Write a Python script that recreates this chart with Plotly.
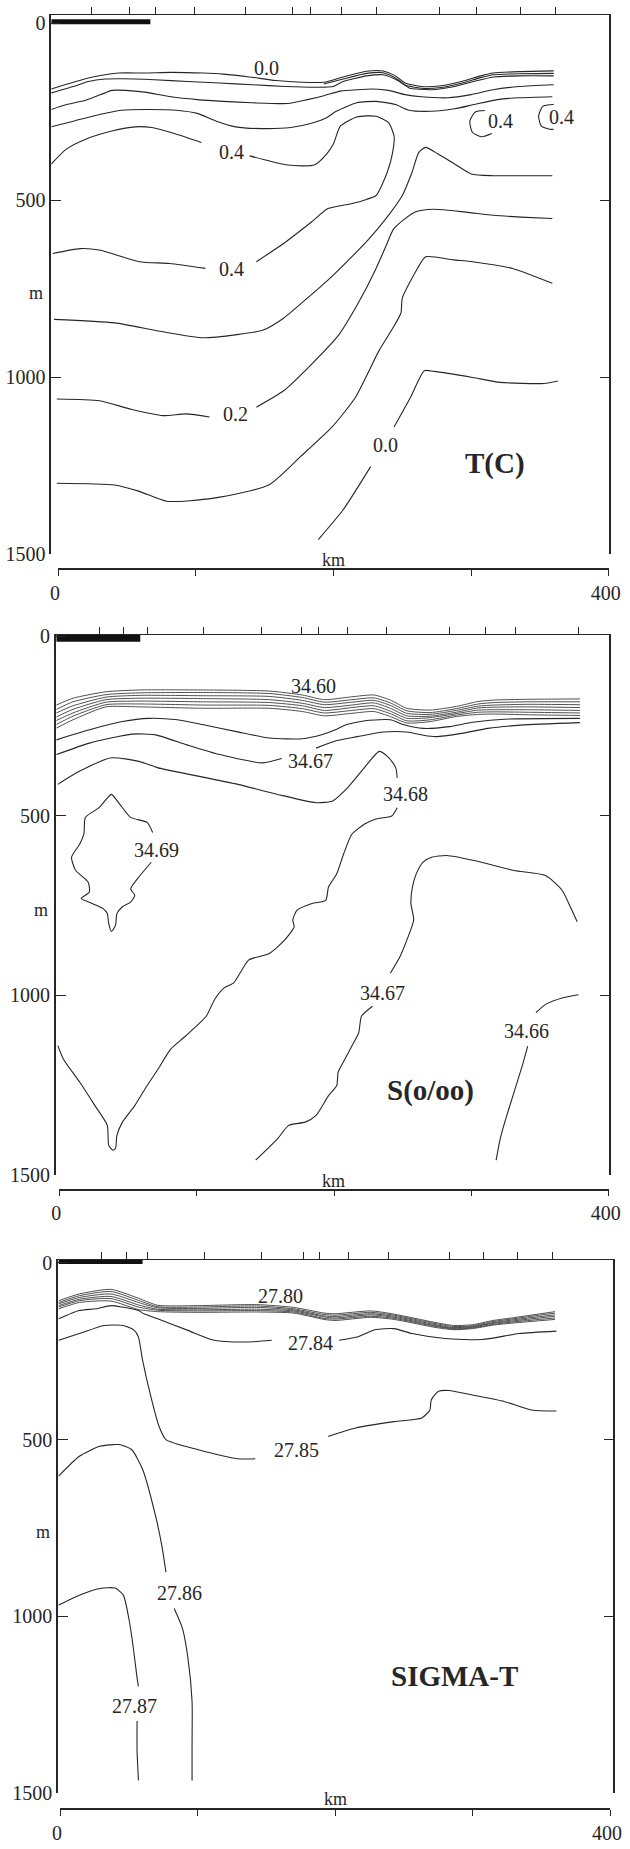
import plotly.graph_objects as go

SERIF = "Liberation Serif"
INK = "#262626"
HATCH = "#3c3c3c"

# Each isoline is a list of (distance km, depth m) points.
# None breaks the line where its value label is printed.

# ---------------------------------------------------------------- T(C)
T_STATIONS = [24, 52, 71, 99, 136, 170, 183, 206, 231, 277, 304, 336, 361]
T_SCALE_BAR = [-5, 67]

T_BAND_A = [(-5, 185), (11, 166), (27, 150), (44, 140), (63, 140), (82, 138), (105, 140), (120, 143),
            (139, 151), (158, 161), (177, 166), (193, 166), (207, 151), (224, 135), (236, 134), (245, 148),
            (252, 168), (264, 178), (278, 176), (293, 164), (307, 148), (316, 140), (335, 136), (360, 134)]
T_BAND_B = [(193, 171), (207, 157), (224, 141), (236, 139), (245, 154), (252, 174), (264, 183), (278, 181),
            (293, 169), (307, 153), (316, 145), (335, 142), (360, 141)]
T_BAND_C = [(-5, 196), (11, 178), (22, 164), (34, 157), (46, 156), (70, 159), (94, 164), (117, 168),
            (141, 173), (165, 178), (188, 180), (200, 178), (207, 164), (224, 148), (236, 145), (248, 164),
            (255, 182), (271, 187), (288, 178), (302, 164), (316, 151), (335, 148), (360, 148)]
T_ISO_3 = [(-5, 243), (6, 229), (20, 217), (34, 196), (39, 189), (49, 189), (63, 194), (82, 207),
           (101, 215), (120, 220), (141, 224), (167, 226), (181, 215), (193, 204), (205, 191), (217, 187),
           (229, 185), (240, 189), (252, 201), (264, 207), (283, 210), (300, 201), (316, 187), (335, 178),
           (360, 173)]
T_ISO_4 = [(-5, 292), (11, 276), (30, 257), (46, 245), (63, 243), (86, 245), (101, 254), (115, 276),
           (129, 292), (148, 297), (169, 294), (184, 282), (195, 266), (202, 248), (217, 224), (231, 220),
           (245, 229), (255, 245), (271, 248), (288, 241), (302, 229), (319, 215), (335, 210), (359, 207)]
T_CORE_04 = [(-5, 397), (6, 355), (20, 327), (39, 304), (56, 292), (68, 294), (86, 313), (104, 336), None,
             (139, 374), (153, 388), (167, 400), (186, 400), (195, 369), (200, 340), (205, 290), (217, 264),
             (231, 262), (240, 280), (244, 318), (243, 364), (239, 421), (231, 486), (224, 497), (212, 510),
             (196, 523), (184, 561), (164, 621), (144, 673), None,
             (107, 692), (81, 678), (59, 673), (30, 640), (16, 636), (-4, 650)]
T_RIDGE_1 = [(-3, 836), (41, 846), (73, 869), (104, 888), (130, 879), (149, 866), (164, 832), (181, 776),
             (196, 725), (210, 672), (225, 612), (238, 552), (250, 486), (257, 421), (262, 364), (267, 350),
             (276, 369), (288, 397), (300, 425), (316, 430), (335, 430), (359, 430)]
T_ISO_02 = [(-1, 1061), (30, 1066), (53, 1090), (76, 1108), (93, 1103), (110, 1112), None,
            (144, 1084), (164, 1037), (184, 963), (204, 879), (218, 790), (230, 700), (238, 630),
            (244, 579), (259, 533), (273, 525), (296, 533), (316, 542), (336, 547), (359, 551)]
T_RIDGE_2 = [(-1, 1299), (41, 1304), (59, 1322), (79, 1350), (113, 1341), (153, 1304), (176, 1224),
             (199, 1140), (216, 1056), (233, 925), (244, 855), (249, 818), (250, 776), (261, 692),
             (267, 659), (287, 668), (301, 673), (330, 692), (359, 734)]
T_ISO_00 = [(189, 1458), (207, 1374), (227, 1252), None, (244, 1140), (256, 1056), (266, 981),
            (273, 983), (301, 1000), (321, 1014), (353, 1017), (363, 1010)]
T_LOOP_A = [(310, 246), (303, 250), (299, 276), (301, 308), (308, 320), (315, 311)]
T_LOOP_B = [(360, 229), (352, 234), (349, 262), (351, 290), (357, 299), (360, 299)]
T_LABELS = [("0.0", 151, 127), ("0.4", 126, 362), ("0.4", 126, 693), ("0.2", 129, 1103),
            ("0.0", 238, 1191), ("0.4", 321, 276), ("0.4", 366, 264)]

# ------------------------------------------------------------- S(o/oo)
S_STATIONS = [29, 47, 64, 105, 147, 176, 189, 210, 238, 284, 310, 332, 378]
S_SCALE_BAR = [-2, 59]

S_BAND_KM = [-2, 10, 34, 58, 105, 153, 177, 193, 213, 229, 241, 253, 270, 289, 305, 317, 340, 379]
S_BAND_DEPTHS = [
    [191, 172, 154, 149, 149, 152, 163, 176, 168, 163, 177, 200, 205, 195, 181, 177, 175, 174],
    [203, 182, 162, 157, 156, 159, 170, 183, 176, 171, 185, 207, 212, 201, 188, 184, 182, 182],
    [213, 193, 169, 164, 165, 167, 178, 190, 183, 178, 192, 214, 217, 206, 194, 191, 189, 190],
    [224, 203, 176, 172, 173, 176, 186, 198, 191, 185, 200, 221, 222, 211, 199, 197, 196, 198],
    [234, 213, 183, 180, 182, 184, 193, 206, 198, 193, 208, 228, 226, 215, 205, 204, 204, 206],
    [245, 222, 190, 188, 191, 192, 201, 213, 206, 201, 215, 235, 232, 219, 211, 210, 211, 213],
    [255, 232, 196, 196, 200, 200, 209, 221, 214, 209, 223, 241, 237, 223, 217, 216, 218, 220],
]
S_ISO_A = [(-2, 288), (22, 260), (46, 237), (65, 228), (86, 232), (105, 246), (129, 265), (153, 283),
           (177, 285), (191, 274), (201, 260), (208, 247), (224, 234), (241, 232), (251, 246), (265, 256),
           (284, 251), (301, 239), (327, 230), (379, 228)]
S_ISO_3467_UP = [(-2, 329), (22, 297), (53, 272), (70, 274), (93, 302), (117, 329), (148, 352), (162, 340),
                 None, (187, 311), (202, 290), (217, 279), (236, 266), (253, 266), (265, 275), (274, 279),
                 (293, 270), (312, 256), (336, 247), (379, 240)]
S_ISO_3468 = [(-1, 412), (15, 375), (38, 338), (58, 348), (72, 366), (101, 389), (130, 412), (159, 440),
              (187, 463), (199, 458), (210, 421), (222, 366), (233, 320), (240, 338), (245, 366), (246, 394),
              None, (246, 477), (242, 500), (230, 509), (222, 523), (213, 551), (207, 606), (202, 661),
              (196, 698), (194, 735), (184, 744), (173, 763), (170, 790), (171, 809), (164, 846), (153, 883),
              (138, 901), (133, 929), (127, 965), (120, 979), (113, 1012), (107, 1058), (92, 1113),
              (81, 1150), (72, 1205), (64, 1251), (55, 1307), (46, 1353), (42, 1390), (41, 1426),
              (39, 1431), (36, 1417), (35, 1362), (26, 1307), (15, 1242), (3, 1177), (-1, 1140)]
S_ISO_3469 = [(67, 629), (58, 670), (52, 703), (55, 721), (52, 740), (46, 753), (42, 772), (41, 804),
              (38, 822), (36, 799), (35, 772), (32, 758), (24, 744), (16, 730), (22, 712), (21, 684),
              (12, 652), (9, 615), (15, 578), (18, 550), (19, 504), (29, 477), (35, 450), (38, 440),
              (44, 467), (52, 504), (64, 518), (68, 546)]
S_ISO_3467_LOW = [(143, 1459), (159, 1399), (167, 1362), (179, 1353), (187, 1334), (196, 1279), (202, 1251),
                  (203, 1214), (208, 1177), (213, 1141), (218, 1104), (220, 1058), (228, 1030), None,
                  (241, 938), (248, 892), (253, 846), (258, 790), (256, 744), (257, 700), (260, 660),
                  (265, 628), (271, 615), (282, 610), (302, 624), (331, 652), (354, 666), (366, 707),
                  (372, 753), (377, 795)]
S_ISO_3466 = [(378, 998), (366, 1007), (354, 1025), (347, 1048), None, (341, 1141), (337, 1196),
              (331, 1270), (325, 1344), (321, 1399), (318, 1459)]
S_LABELS = [("34.60", 185, 138), ("34.67", 183, 347), ("34.68", 252, 438), ("34.69", 71, 595),
            ("34.67", 235, 993), ("34.66", 340, 1099)]

# ------------------------------------------------------------- SIGMA-T
D_STATIONS = [30, 48, 63.5, 105, 146.5, 177, 189, 210, 239, 283, 308, 333, 358]
D_SCALE_BAR = [-1, 60]

D_BAND_KM = [-1, 14, 37, 57, 71, 100, 143, 170, 192, 200, 226, 243, 272, 286, 300, 315, 330, 360]
D_BAND_DEPTHS = [
    [107, 88, 75, 100, 120, 121, 118, 126, 142, 144, 136, 145, 168, 177, 175, 163, 155, 138],
    [112, 93, 81, 106, 124, 125, 122, 130, 146, 148, 140, 148, 171, 180, 178, 166, 158, 142],
    [116, 98, 88, 112, 127, 129, 126, 133, 150, 152, 144, 151, 174, 183, 180, 169, 161, 147],
    [121, 103, 95, 119, 131, 133, 131, 136, 153, 156, 147, 154, 177, 185, 182, 171, 164, 151],
    [125, 107, 101, 125, 134, 136, 135, 139, 157, 159, 151, 157, 179, 187, 184, 174, 167, 156],
    [130, 112, 108, 132, 138, 140, 139, 142, 160, 163, 154, 160, 182, 189, 186, 176, 170, 160],
]
D_ISO_2784 = [(-1, 158), (14, 135), (26, 130), (37, 121), (45, 125), (57, 135), (61, 144), (71, 158),
              (93, 191), (112, 219), (136, 224), (154, 219), None, (203, 219), (216, 210), (229, 189),
              (243, 186), (256, 200), (280, 214), (307, 217), (334, 200), (361, 193)]
D_ISO_2785 = [(-1, 219), (14, 200), (32, 177), (46, 177), (54, 191), (57, 210), (60, 275), (66, 378),
              (72, 463), (77, 500), (100, 528), (129, 554), (142, 554), None, (195, 491), (215, 467),
              (243, 449), (263, 439), (269, 416), (270, 388), (275, 364), (283, 361), (300, 374),
              (323, 392), (343, 416), (361, 419)]
D_ISO_2786 = [(-1, 603), (14, 547), (29, 519), (43, 514), (52, 528), (60, 584), (70, 725), (74, 800),
              (77, 875), None, (83, 978), (89, 1034), (93, 1118), (96, 1240), (96, 1361), (96, 1464)]
D_ISO_2787 = [(-1, 968), (14, 940), (29, 921), (40, 920), (46, 940), (50, 1006), (53, 1081), (56, 1174),
              (57, 1198), None, (56, 1296), (56, 1380), (57, 1464)]
D_LABELS = [("27.80", 160, 93), ("27.84", 182, 228), ("27.85", 172, 528), ("27.86", 87, 935),
            ("27.87", 54, 1254)]

DEPTH_TICKS = [0, 500, 1000, 1500]
KM_TICKS = [0, 100, 200, 300, 400]


def band(km, depths):
    return [list(zip(km, d)) for d in depths]


PANELS = [
    dict(title="T(C)", title_at=(317, 1244), stations=T_STATIONS, bar=T_SCALE_BAR,
         lines=[T_BAND_A, T_BAND_B, T_BAND_C, T_ISO_3, T_ISO_4, T_CORE_04, T_RIDGE_1, T_ISO_02,
                T_RIDGE_2, T_ISO_00, T_LOOP_A, T_LOOP_B],
         band=[], labels=T_LABELS,
         yrange=[1500, -24], ydom=[0.69934, 1.0], xrange=[-5, 400], xdom=[0.00226, 0.99252],
         kmdom=[0.01443, 0.99252], kmpos=0.6912, bar_depth=-5, bar_w=5),
    dict(title="S(o/oo)", title_at=(270, 1264), stations=S_STATIONS, bar=S_SCALE_BAR,
         lines=[S_ISO_A, S_ISO_3467_UP, S_ISO_3468, S_ISO_3469, S_ISO_3467_LOW, S_ISO_3466],
         band=band(S_BAND_KM, S_BAND_DEPTHS), labels=S_LABELS,
         yrange=[1500, -5], ydom=[0.35346, 0.65457], xrange=[-2.5, 400], xdom=[0.01026, 0.99252],
         kmdom=[0.01645, 0.99252], kmpos=0.3453, bar_depth=5, bar_w=7),
    dict(title="SIGMA-T", title_at=(287, 1169), stations=D_STATIONS, bar=D_SCALE_BAR,
         lines=[D_ISO_2784, D_ISO_2785, D_ISO_2786, D_ISO_2787],
         band=band(D_BAND_KM, D_BAND_DEPTHS), labels=D_LABELS,
         yrange=[1500, -8], ydom=[0.00885, 0.30600], xrange=[-1.5, 402], xdom=[0.01426, 0.99948],
         kmdom=[0.01791, 0.99478], kmpos=0.0, bar_depth=-5, bar_w=6),
]


def split_xy(points):
    xs, ys = [], []
    for p in points:
        xs.append(None if p is None else p[0])
        ys.append(None if p is None else p[1])
    return xs, ys


def ref(axis, n):
    return axis if n == 1 else f"{axis}{n}"


def key(axis, n):
    return f"{axis}axis" if n == 1 else f"{axis}axis{n}"


fig = go.Figure()
layout = {}
annotations = []
tick_font = dict(family=SERIF, size=20, color=INK)
label_font = dict(family=SERIF, size=20, color=INK)

for i, p in enumerate(PANELS):
    n = i + 1
    xr, yr = ref("x", n), ref("y", n)
    xr_km, yr_right = ref("x", n + 3), ref("y", n + 3)

    # keep the right-hand frame axis and the km axis alive
    fig.add_trace(go.Scatter(x=[None], y=[None], xaxis=xr, yaxis=yr_right, showlegend=False,
                             hoverinfo="skip"))
    fig.add_trace(go.Scatter(x=[None], y=[None], xaxis=xr_km, yaxis=yr, showlegend=False,
                             hoverinfo="skip"))

    for pts in p["band"]:
        xs, ys = split_xy(pts)
        fig.add_trace(go.Scatter(x=xs, y=ys, mode="lines", xaxis=xr, yaxis=yr,
                                 line=dict(color=HATCH, width=0.9, shape="spline", smoothing=0.6),
                                 hoverinfo="skip", showlegend=False))
    for pts in p["lines"]:
        xs, ys = split_xy(pts)
        fig.add_trace(go.Scatter(x=xs, y=ys, mode="lines", xaxis=xr, yaxis=yr,
                                 line=dict(color=INK, width=1.1, shape="spline", smoothing=0.6),
                                 hoverinfo="skip", showlegend=False))
    # thick distance bar on the surface line
    fig.add_trace(go.Scatter(x=p["bar"], y=[p["bar_depth"]] * 2, mode="lines", xaxis=xr, yaxis=yr,
                             line=dict(color="#111111", width=p["bar_w"]), hoverinfo="skip",
                             showlegend=False))

    layout[key("x", n)] = dict(
        domain=p["xdom"], range=p["xrange"], anchor=yr, side="top",
        showline=True, linecolor=INK, linewidth=1.3,
        ticks="outside", ticklen=7, tickwidth=1.2, tickcolor=INK,
        tickmode="array", tickvals=p["stations"], showticklabels=False,
        showgrid=False, zeroline=False, fixedrange=True)
    layout[key("y", n)] = dict(
        domain=p["ydom"], range=p["yrange"], anchor=xr,
        showline=True, linecolor=INK, linewidth=1.5,
        ticks="inside", ticklen=10, tickwidth=1.3, tickcolor=INK,
        tickmode="array", tickvals=DEPTH_TICKS, ticktext=[str(v) for v in DEPTH_TICKS],
        tickfont=tick_font, showgrid=False, zeroline=False, fixedrange=True)
    layout[key("y", n + 3)] = dict(
        overlaying=yr, side="right", anchor=xr, range=p["yrange"],
        showline=True, linecolor=INK, linewidth=1.5,
        ticks="inside", ticklen=9, tickwidth=1.3, tickcolor=INK,
        tickmode="array", tickvals=DEPTH_TICKS[1:], showticklabels=False,
        showgrid=False, zeroline=False, fixedrange=True)
    layout[key("x", n + 3)] = dict(
        domain=p["kmdom"], range=[0, 400], anchor="free", position=p["kmpos"], side="bottom",
        showline=True, linecolor=INK, linewidth=1.6,
        ticks="outside", ticklen=6, tickwidth=1.3, tickcolor=INK,
        tickmode="array", tickvals=KM_TICKS,
        ticktext=[str(KM_TICKS[0]), "", "", "", str(KM_TICKS[-1])],
        ticklabeloverflow="allow", ticklabelshift=-3,
        tickfont=tick_font, showgrid=False, zeroline=False, fixedrange=True)

    for text, km, depth in p["labels"]:
        annotations.append(dict(x=km, y=depth, xref=xr, yref=yr, text=text, showarrow=False,
                                font=label_font, xanchor="center", yanchor="middle"))
    tx, ty = p["title_at"]
    annotations.append(dict(x=tx, y=ty, xref=xr, yref=yr, text=f"<b>{p['title']}</b>",
                            showarrow=False, font=dict(family=SERIF, size=29, color=INK),
                            xanchor="center", yanchor="middle"))
    annotations.append(dict(x=0, xref=f"{xr} domain", y=762, yref=yr, text="m", showarrow=False,
                            font=dict(family=SERIF, size=18, color=INK),
                            xanchor="right", yanchor="middle", xshift=-6))
    annotations.append(dict(x=200, xref=xr, y=1500, yref=yr, text="km", showarrow=False,
                            font=dict(family=SERIF, size=18, color=INK),
                            xanchor="center", yanchor="middle", yshift=-6))

fig.update_layout(
    width=630, height=1849,
    margin=dict(l=50, r=5, t=15, b=27),
    paper_bgcolor="white", plot_bgcolor="rgba(0,0,0,0)",
    showlegend=False, annotations=annotations,
    **layout,
)

fig.write_html("out.html")
